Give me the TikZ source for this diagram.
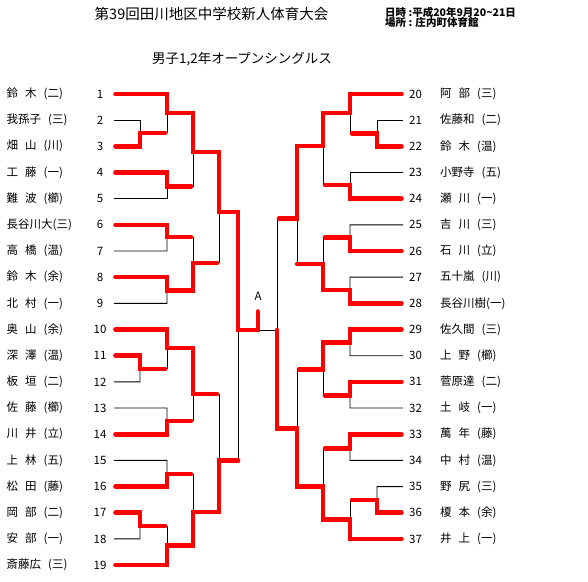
\documentclass[tikz,border=0pt]{standalone}
\usepackage{fontspec}
\setmainfont{Noto Sans CJK JP}
\newcommand{\s}{\hspace{7pt}}
\tikzset{
  win/.style={draw=red, line width=4.6pt, line cap=round, line join=miter},
  lose/.style={draw=black, line width=0.9pt},
  nm/.style={anchor=west, inner sep=0pt, font=\fontsize{11.5}{12}\selectfont},
  numl/.style={anchor=center, inner sep=0pt, font=\fontsize{11.5}{12}\selectfont},
  numr/.style={anchor=west, inner sep=0pt, font=\fontsize{11.5}{12}\selectfont},
}
\begin{document}
\begin{tikzpicture}[x=1pt,y=-1pt]
\useasboundingbox[fill=white] (0,0) rectangle (588,581);

% titles
\node[inner sep=0pt, font=\fontsize{14.5}{15}\selectfont] (title) at (211.5,14) {第39回田川地区中学校新人体育大会};
\node[inner sep=0pt, anchor=west, font=\fontsize{10.5}{11}\selectfont\bfseries] (date) at (385,12.5) {日時 :平成20年9月20\textasciitilde 21日};
\node[inner sep=0pt, anchor=west, font=\fontsize{10.5}{11}\selectfont\bfseries] (place) at (385,22.8) {場所 : 庄内町体育館};
\node[inner sep=0pt, font=\fontsize{13.5}{14}\selectfont] (sub) at (242,59) {男子1,2年オープンシングルス};

% left players
\foreach \i/\nme in {1/鈴\s{}木\s{}(二),2/我孫子\s{}(三),3/畑\s{}山\s{}(川),4/工\s{}藤\s{}(一),5/難\s{}波\s{}(櫛),6/長谷川大(三),7/高\s{}橋\s{}(温),8/鈴\s{}木\s{}(余),9/北\s{}村\s{}(一),10/奥\s{}山\s{}(余),11/深\s{}澤\s{}(温),12/板\s{}垣\s{}(二),13/佐\s{}藤\s{}(櫛),14/川\s{}井\s{}(立),15/上\s{}林\s{}(五),16/松\s{}田\s{}(藤),17/岡\s{}部\s{}(二),18/安\s{}部\s{}(一),19/斎藤広\s{}(三)}{
  \pgfmathsetmacro{\yy}{94+26.17*(\i-1)}
  \node[nm] (name\i) at (6.5,\yy) {\nme};
  \node[numl] (n\i) at (100,\yy) {\i};
  \coordinate (p\i) at (114,\yy);
}
% right players
\foreach \i/\nme in {20/阿\s{}部\s{}(三),21/佐藤和\s{}(二),22/鈴\s{}木\s{}(温),23/小野寺\s{}(五),24/瀬\s{}川\s{}(一),25/吉\s{}川\s{}(三),26/石\s{}川\s{}(立),27/五十嵐\s{}(川),28/長谷川樹(一),29/佐久間\s{}(三),30/上\s{}野\s{}(櫛),31/菅原達\s{}(二),32/土\s{}岐\s{}(一),33/萬\s{}年\s{}(藤),34/中\s{}村\s{}(温),35/野\s{}尻\s{}(三),36/榎\s{}本\s{}(余),37/井\s{}上\s{}(一)}{
  \pgfmathsetmacro{\yy}{94+26.17*(\i-20)}
  \node[nm] (name\i) at (440,\yy) {\nme};
  \node[numr] (n\i) at (409,\yy) {\i};
  \coordinate (p\i) at (403,\yy);
}

\node[inner sep=0pt, font=\fontsize{11.5}{12}\selectfont] (champ) at (258,296.5) {A};

% ---------- black lines (left) ----------
\draw[lose] (p2) -- (140,120.17) -- (140,146.34);
\draw[lose] (140,133) -- (167,133);
\draw[lose] (167,94) -- (167,133);
\draw[lose] (p5) -- (167,198.68) -- (167,172.51);
\draw[lose] (p7) -- (167,251.02) -- (167,224.85);
\draw[lose] (p9) -- (167,303.36) -- (167,277.19);
\draw[lose] (p12) -- (140,381.87) -- (140,355.70);
\draw[lose] (167,329.53) -- (167,369);
\draw[lose] (p13) -- (167,408.04) -- (167,434.21);
\draw[lose] (p15) -- (167,460.38) -- (167,486.55);
\draw[lose] (p18) -- (140,538.89) -- (140,512.72);
\draw[lose] (167,526) -- (167,565.06);
\draw[lose] (193,113) -- (193,186.5);
\draw[lose] (193,237) -- (193,290.5);
\draw[lose] (193,348) -- (193,421);
\draw[lose] (193,474) -- (193,545.7);
\draw[lose] (219,152) -- (219,263);
\draw[lose] (219,394) -- (219,512);
\draw[lose] (238,212) -- (238,460.7);
\draw[lose] (238,330) -- (277,330);

% ---------- black lines (right) ----------
\draw[lose] (p21) -- (377,120.17) -- (377,146.34);
\draw[lose] (350,94) -- (350,133.3);
\draw[lose] (p23) -- (350,172.51) -- (350,198.68);
\draw[lose] (p25) -- (350,224.85) -- (350,251.02);
\draw[lose] (p27) -- (350,277.19) -- (350,303.36);
\draw[lose] (p30) -- (350,355.70) -- (350,329.53);
\draw[lose] (p32) -- (350,408.04) -- (350,381.87);
\draw[lose] (p34) -- (350,460.38) -- (350,434.21);
\draw[lose] (p35) -- (377,486.55) -- (377,512.72);
\draw[lose] (350,500) -- (350,538.89);
\draw[lose] (323,113) -- (323,185);
\draw[lose] (323,237.3) -- (323,290);
\draw[lose] (323,342.7) -- (323,395.7);
\draw[lose] (323,448.3) -- (323,519.3);
\draw[lose] (297,146) -- (297,264);
\draw[lose] (297,369.3) -- (297,486.7);
\draw[lose] (277,218.3) -- (277,428.3);

% ---------- red winner paths (left) ----------
\draw[win] (115.5,94) -- (167,94) -- (167,113) -- (193,113) -- (193,152) -- (219,152) -- (219,212) -- (238,212) -- (238,330) -- (258,330) -- (258,311.5);
\draw[win] (115.5,146.34) -- (140,146.34) -- (140,133) -- (165,133);
\draw[win] (115.5,172.51) -- (167,172.51) -- (167,186.5) -- (191,186.5);
\draw[win] (115.5,224.85) -- (167,224.85) -- (167,237) -- (191,237);
\draw[win] (115.5,277.19) -- (167,277.19) -- (167,290.5) -- (193,290.5) -- (193,263) -- (217,263);
\draw[win] (115.5,329.53) -- (167,329.53) -- (167,348) -- (193,348) -- (193,394) -- (217,394);
\draw[win] (115.5,355.70) -- (140,355.70) -- (140,369) -- (165,369);
\draw[win] (115.5,434.21) -- (167,434.21) -- (167,421) -- (191,421);
\draw[win] (115.5,486.55) -- (167,486.55) -- (167,474) -- (191,474);
\draw[win] (115.5,512.72) -- (140,512.72) -- (140,526) -- (165,526);
\draw[win] (115.5,565.06) -- (167,565.06) -- (167,545.7) -- (193,545.7) -- (193,512) -- (219,512) -- (219,460.7) -- (238,460.7);

% ---------- red winner paths (right) ----------
\draw[win] (401.5,94) -- (350,94) -- (350,113) -- (323,113) -- (323,146) -- (297,146) -- (297,218.3) -- (279,218.3);
\draw[win] (401.5,146.34) -- (377,146.34) -- (377,133.3) -- (352,133.3);
\draw[win] (401.5,198.68) -- (350,198.68) -- (350,185) -- (325,185);
\draw[win] (401.5,251.02) -- (350,251.02) -- (350,237.3) -- (325,237.3);
\draw[win] (401.5,303.36) -- (350,303.36) -- (350,290) -- (323,290) -- (323,264) -- (297,264);
\draw[win] (401.5,329.53) -- (350,329.53) -- (350,342.7) -- (323,342.7) -- (323,369.3) -- (299,369.3);
\draw[win] (401.5,381.87) -- (350,381.87) -- (350,395.7) -- (325,395.7);
\draw[win] (401.5,434.21) -- (350,434.21) -- (350,448.3) -- (325,448.3);
\draw[win] (401.5,512.72) -- (377,512.72) -- (377,500) -- (352,500);
\draw[win] (401.5,538.89) -- (350,538.89) -- (350,519.3) -- (323,519.3) -- (323,486.7) -- (297,486.7) -- (297,428.3) -- (277,428.3) -- (277,330);
\end{tikzpicture}
\end{document}
